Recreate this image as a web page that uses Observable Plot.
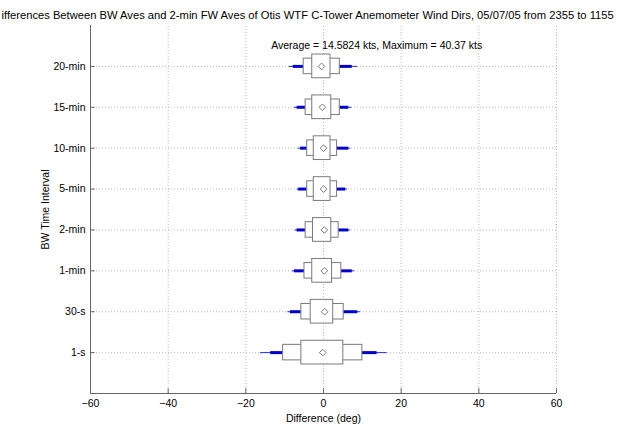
<!DOCTYPE html>
<html>
<head>
<meta charset="utf-8">
<script src="https://cdn.jsdelivr.net/npm/d3@7"></script>
<script src="https://cdn.jsdelivr.net/npm/@observablehq/plot@0.6"></script>
<style>
  html, body { margin: 0; padding: 0; background: #fff; }
  #chart svg { display: block; font-family: "Liberation Sans", Arial, sans-serif; }
</style>
</head>
<body>
<div id="chart"></div>
<script>
const categories = ["1-s", "30-s", "1-min", "2-min", "5-min", "10-min", "15-min", "20-min"];
const centers    = [-0.2, 0.3, 0.2, 0.2, 0.0, 0.0, -0.3, -0.5];
const innerLow   = [-5.7, -3.3, -2.9, -2.7, -2.5, -2.5, -2.9, -2.9];
const innerHigh  = [5.1, 2.5, 2.2, 2.0, 1.8, 1.8, 2.0, 1.8];
const outerLow   = [-10.4, -5.7, -4.9, -4.6, -4.2, -4.2, -4.6, -5.1];
const outerHigh  = [10.0, 5.2, 4.6, 3.9, 3.5, 3.5, 4.2, 4.2];
const thickLow   = [-13.6, -8.5, -7.5, -6.8, -6.4, -5.9, -6.8, -7.8];
const thickHigh  = [13.8, 8.8, 7.4, 6.5, 5.7, 6.5, 6.5, 7.4];
const thinLow    = [-16.2, -9.2, -8.0, -7.3, -6.8, -6.5, -7.5, -8.8];
const thinHigh   = [16.4, 9.5, 8.0, 7.0, 6.2, 7.0, 7.3, 8.8];
const xTicks     = [-60, -40, -20, 0, 20, 40, 60];

// title as it is visible in the reference (its first letter is cut off by the image edge)
const titleText = "ifferences Between BW Aves and 2-min FW Aves of Otis WTF C-Tower Anemometer Wind Dirs, 05/07/05 from 2355 to 1155";
const noteText = "Average = 14.5824 kts, Maximum = 40.37 kts";
const yLabel = "BW Time Interval";

const rows = categories.map((c, i) => ({
  cat: c, pos: i + 1, center: centers[i],
  iL: innerLow[i], iH: innerHigh[i], oL: outerLow[i], oH: outerHigh[i],
  tkL: thickLow[i], tkH: thickHigh[i], tnL: thinLow[i], tnH: thinHigh[i]
}));

const innerH = 0.29, outerH = 0.19;
const gray = "#7a7a7a";
const blue = "#0000cc";

const chart = Plot.plot({
  width: 623,
  height: 424,
  marginLeft: 90,
  marginRight: 67,
  marginTop: 25,
  marginBottom: 31,
  style: { fontFamily: "Liberation Sans, Arial, sans-serif", fontSize: "10.5px", color: "#000", background: "#fff" },
  x: { domain: [-60, 60] },
  y: { domain: [0, 9] },
  marks: [
    // grid
    Plot.ruleX(xTicks, { y1: 0, y2: 9, stroke: "#bbb", strokeDasharray: "1,2", strokeWidth: 1 }),
    Plot.ruleY(rows, { y: "pos", x1: -60, x2: 60, stroke: "#bbb", strokeDasharray: "1,2", strokeWidth: 1 }),
    // axis lines
    Plot.ruleX([-60], { y1: 0, y2: 9, stroke: "#666" }),
    Plot.ruleY([0], { x1: -60, x2: 60, stroke: "#666" }),
    Plot.axisX({ ticks: xTicks, tickSize: 0, tickPadding: 6, label: "Difference (deg)", labelAnchor: "center", labelArrow: "none", labelOffset: 28, fontSize: 10.5 }),
    Plot.axisY({ ticks: rows.map(d => d.pos), tickFormat: (d) => categories[d - 1], tickSize: 0, tickPadding: 5, label: null }),
    Plot.text([yLabel], { frameAnchor: "left", text: d => d, rotate: -90, dx: -45, fontSize: 10.5, textAnchor: "middle" }),
    // inward tick marks
    Plot.ruleX(xTicks, { y1: 0, y2: 0.12, stroke: "#666" }),
    Plot.ruleY(rows, { y: "pos", x1: -60, x2: -58.8, stroke: "#666" }),
    // whiskers
    Plot.ruleY(rows, { y: "pos", x1: "tnL", x2: "oL", stroke: "#2a2ae6", strokeWidth: 1 }),
    Plot.ruleY(rows, { y: "pos", x1: "oH", x2: "tnH", stroke: "#2a2ae6", strokeWidth: 1 }),
    Plot.ruleY(rows, { y: "pos", x1: "tkL", x2: "oL", stroke: blue, strokeWidth: 3 }),
    Plot.ruleY(rows, { y: "pos", x1: "oH", x2: "tkH", stroke: blue, strokeWidth: 3 }),
    // boxes
    Plot.rect(rows, { x1: "oL", x2: "oH", y1: d => d.pos - outerH, y2: d => d.pos + outerH, fill: "#fff", stroke: gray, strokeWidth: 1 }),
    Plot.rect(rows, { x1: "iL", x2: "iH", y1: d => d.pos - innerH, y2: d => d.pos + innerH, fill: "#fff", stroke: gray, strokeWidth: 1 }),
    Plot.dot(rows, { x: "center", y: "pos", symbol: "diamond2", r: 3, stroke: gray, strokeWidth: 1 }),
    // annotation
    Plot.text([noteText], { x: 13.7, y: 8.5, text: d => d, fontSize: 10.5, textAnchor: "middle" }),
    // title
    Plot.text([titleText], { frameAnchor: "top-left", dx: -89, dy: -14, text: d => d, fontSize: 11.2, textAnchor: "start" })
  ]
});
document.getElementById("chart").appendChild(chart);
</script>
</body>
</html>
